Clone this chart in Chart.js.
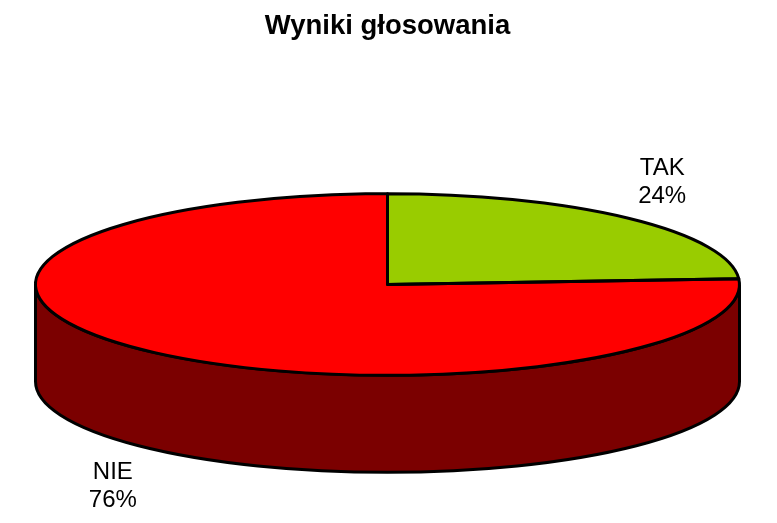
<!DOCTYPE html>
<html>
<head>
<meta charset="utf-8">
<title>Wyniki głosowania</title>
<style>
    html, body { margin: 0; padding: 0; background: #ffffff; }
    canvas { display: block; }
</style>
<script src="https://cdn.jsdelivr.net/npm/chart.js@4/dist/chart.umd.min.js"></script>
</head>
<body>
<canvas id="voteChart" width="777" height="523"></canvas>
<script>
    const categories = ['TAK', 'NIE'];
    const voteShares = [24, 76];
    const topColors = ['#99cc00', '#ff0000'];
    const sideColors = ['#4d6600', '#7b0000'];

    // Pie look: squash the flat pie into an ellipse and give it a wall
    const PIE_RADIUS = 352;
    const SQUASH = 0.258;
    const DEPTH = 97;
    const OUTLINE = 3;

    const pie3d = {
        id: 'pie3d',
        beforeDatasetsDraw(chart) {
            const ctx = chart.ctx;
            const arcs = chart.getDatasetMeta(0).data;

            // Wall: only the parts of each slice that face the viewer
            arcs.forEach((arc, i) => {
                const ry = arc.outerRadius * SQUASH;
                const from = Math.max(arc.startAngle, 0);
                const to = Math.min(arc.endAngle, Math.PI);
                if (to <= from) return;
                ctx.beginPath();
                ctx.ellipse(arc.x, arc.y + DEPTH, arc.outerRadius, ry, 0, from, to);
                ctx.ellipse(arc.x, arc.y, arc.outerRadius, ry, 0, to, from, true);
                ctx.closePath();
                ctx.fillStyle = sideColors[i];
                ctx.fill();
                ctx.lineWidth = OUTLINE;
                ctx.strokeStyle = '#000000';
                ctx.stroke();
            });

            // The slices themselves are drawn by Chart.js inside this transform
            const first = arcs[0];
            ctx.save();
            ctx.translate(first.x, first.y);
            ctx.scale(1, SQUASH);
            ctx.translate(-first.x, -first.y);
        },
        afterDatasetsDraw(chart) {
            const ctx = chart.ctx;
            ctx.restore();

            chart.getDatasetMeta(0).data.forEach((arc, i) => {
                const ry = arc.outerRadius * SQUASH;
                ctx.beginPath();
                ctx.moveTo(arc.x, arc.y);
                ctx.ellipse(arc.x, arc.y, arc.outerRadius, ry, 0, arc.startAngle, arc.endAngle);
                ctx.closePath();
                ctx.lineWidth = OUTLINE;
                ctx.lineJoin = 'round';
                ctx.strokeStyle = '#000000';
                ctx.stroke();

                // Label outside the slice, on its middle angle
                const mid = (arc.startAngle + arc.endAngle) / 2;
                const x = arc.x + arc.outerRadius * 1.14 * Math.cos(mid);
                const y = arc.y + ry * 1.56 * Math.sin(mid) + (Math.sin(mid) > 0 ? DEPTH : 0);
                ctx.font = '24px "Liberation Sans", Arial, sans-serif';
                ctx.fillStyle = '#000000';
                ctx.textAlign = 'center';
                ctx.textBaseline = 'alphabetic';
                ctx.fillText(categories[i], x, y - 6);
                ctx.fillText(voteShares[i] + '%', x, y + 22);
            });
        }
    };

    new Chart(document.getElementById('voteChart'), {
        type: 'pie',
        data: {
            labels: categories,
            datasets: [{
                data: voteShares,
                backgroundColor: topColors,
                borderWidth: 0,
                clip: false
            }]
        },
        options: {
            responsive: false,
            animation: false,
            events: [],
            radius: PIE_RADIUS,
            layout: { padding: { right: 2 } },
            plugins: {
                legend: { display: false },
                tooltip: { enabled: false },
                title: {
                    display: true,
                    text: 'Wyniki głosowania',
                    color: '#000000',
                    font: { family: '"Liberation Sans", Arial, sans-serif', size: 27.5, weight: 'bold', lineHeight: 1.2 },
                    padding: { top: 10, bottom: 3 }
                }
            }
        },
        plugins: [pie3d]
    });
</script>
</body>
</html>
